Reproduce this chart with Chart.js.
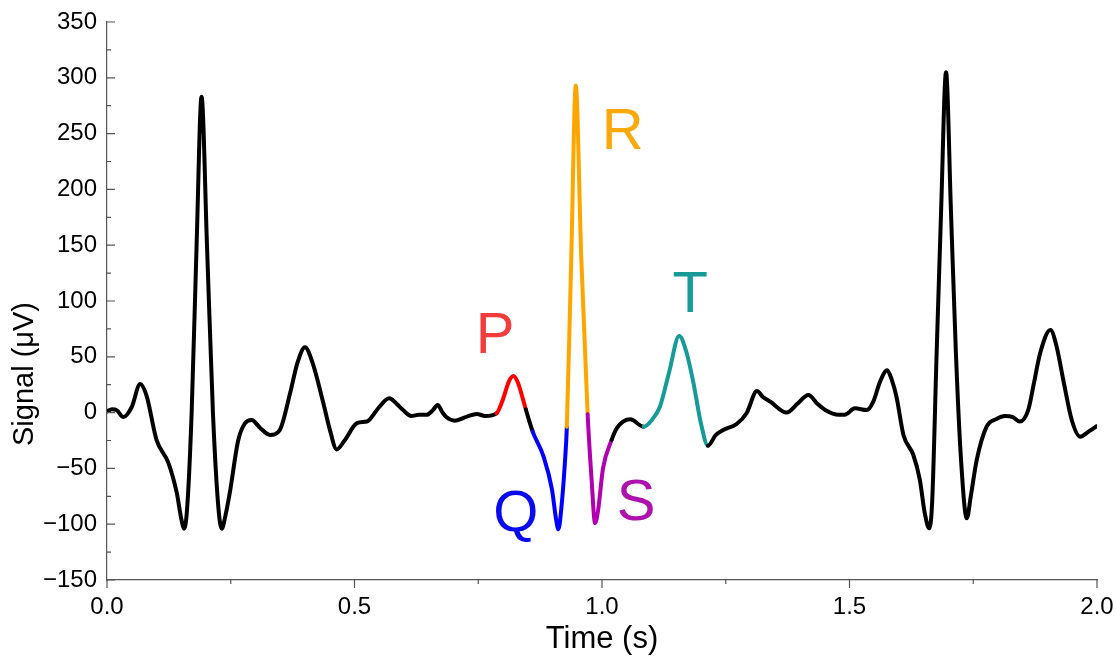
<!DOCTYPE html>
<html>
<head>
<meta charset="utf-8">
<script src="https://cdn.jsdelivr.net/npm/chart.js@4.4.1/dist/chart.umd.min.js"></script>
<style>
  html, body { margin: 0; padding: 0; background: #fff; }
  #wrap { width: 1116px; height: 661px; position: relative; }
</style>
</head>
<body>
<div id="wrap"><canvas id="ecg"></canvas></div>
<script>
// Data
const times = [
  0.000, 0.010, 0.020, 0.033, 0.050, 0.067, 0.080, 0.100, 0.124, 0.141,
  0.150, 0.156, 0.162, 0.171, 0.181, 0.191, 0.202, 0.214, 0.225, 0.232,
  0.238, 0.248, 0.265, 0.278, 0.292, 0.310, 0.329, 0.349, 0.370, 0.385,
  0.400, 0.415, 0.437, 0.450, 0.464, 0.480, 0.505, 0.525, 0.531, 0.550,
  0.570, 0.585, 0.598, 0.615, 0.630, 0.646, 0.658, 0.668, 0.678, 0.686,
  0.703, 0.727, 0.747, 0.764, 0.787, 0.800, 0.812, 0.821, 0.830, 0.846,
  0.860, 0.882, 0.899, 0.907, 0.912, 0.918, 0.925, 0.929, 0.938, 0.947,
  0.958, 0.971, 0.979, 0.986, 0.992, 1.002, 1.0195, 1.030, 1.057, 1.084,
  1.100, 1.117, 1.135, 1.156, 1.170, 1.185, 1.200, 1.214, 1.230, 1.245,
  1.272, 1.292, 1.313, 1.325, 1.340, 1.373, 1.395, 1.417, 1.435, 1.451,
  1.478, 1.490, 1.511, 1.535, 1.548, 1.562, 1.576, 1.585, 1.595, 1.609,
  1.629, 1.642, 1.652, 1.661, 1.667, 1.676, 1.685, 1.695, 1.705, 1.715,
  1.725, 1.737, 1.745, 1.757, 1.777, 1.797, 1.814, 1.830, 1.844, 1.861,
  1.872, 1.885, 1.906, 1.918, 1.932, 1.949, 1.966, 1.983, 2.000
];
const signal = [
  1, 3, 2, -4, 5, 25.6, 15, -24.5, -45, -72,
  -95, -104, -85, 0, 150, 283, 150, 0, -85, -104,
  -95, -72, -25, -10, -6.6, -14, -20, -15.6, 17.6, 45,
  58.6, 45, 8.6, -15, -33, -25, -9.5, -8, -6, 5,
  12.8, 8, 2.3, -3, -2, -2, 2, 6.8, 0, -4.2,
  -7.2, -3.6, -1.3, -3, -0.6, 12, 28, 32.8, 27, 3,
  -17, -39.5, -69, -95, -104.6, -85, -45, -12.6, 140, 293,
  140, -1.5, -60, -99, -88, -50, -24.5, -14, -6, -12.6,
  -7, 5.3, 35, 68.6, 55, 26, -10, -29.6, -20, -15.6,
  -10.2, -0.6, 19.4, 14, 9.8, 0, 8, 15.8, 8, 2.3,
  -2, -2, 3.8, 2.3, 9.8, 28, 38, 30, 14, -20,
  -38, -60, -90, -103.7, -80, 53, 180, 305, 180, 53,
  -40, -94.7, -75, -42.5, -12.6, -5.7, -3, -4, -8, 2.3,
  25, 53, 74, 60, 29, -6.6, -21.6, -17, -12
];

// Named waves and the time span each one covers
const waveNames = ['P', 'Q', 'R', 'S', 'T'];
const waveStart = [0.787, 0.860, 0.929, 0.971, 1.084];
const waveEnd   = [0.846, 0.929, 0.971, 1.0195, 1.214];

const yTicks = [-150, -100, -50, 0, 50, 100, 150, 200, 250, 300, 350];
const xTicks = [0.0, 0.5, 1.0, 1.5, 2.0];

// Styles
const lineColors  = { P: '#ff0000', Q: '#0000ff', R: '#ffa500', S: '#b000b0', T: '#179b98' };
const labelColors = { P: '#f43c3c', Q: '#0a0aee', R: '#f9a90a', S: '#ad12ad', T: '#179b98' };
const labelAnchor = {
  P: [0.784, 53], Q: [0.826, -106], R: [1.042, 236], S: [1.069, -96], T: [1.178, 90]
};
const axisColor = '#555';
const font = 'Arial, "Liberation Sans", sans-serif';

const points = times.map((t, i) => ({ x: t, y: signal[i] }));

function segColor(ctx) {
  const a = ctx.p0.parsed.x, b = ctx.p1.parsed.x;
  for (let i = 0; i < waveNames.length; i++) {
    if (a >= waveStart[i] - 1e-6 && b <= waveEnd[i] + 1e-6) return lineColors[waveNames[i]];
  }
  return '#000';
}

// ticks: y inward (to the right), x outward (down); minor halfway
const tickMarks = {
  id: 'tickMarks',
  afterDraw(chart) {
    const { ctx, scales: { x, y } } = chart;
    ctx.save();
    ctx.strokeStyle = axisColor;
    ctx.lineWidth = 1.2;
    ctx.beginPath();
    yTicks.forEach((v, i) => {
      const py = y.getPixelForValue(v);
      ctx.moveTo(x.left, py); ctx.lineTo(x.left + 8, py);
      if (i < yTicks.length - 1) {
        const pm = y.getPixelForValue((v + yTicks[i + 1]) / 2);
        ctx.moveTo(x.left, pm); ctx.lineTo(x.left + 4, pm);
      }
    });
    xTicks.forEach((v, i) => {
      const px = x.getPixelForValue(v);
      ctx.moveTo(px, y.bottom); ctx.lineTo(px, y.bottom + 8);
      if (i < xTicks.length - 1) {
        const pm = x.getPixelForValue((v + xTicks[i + 1]) / 2);
        ctx.moveTo(pm, y.bottom); ctx.lineTo(pm, y.bottom + 4);
      }
    });
    ctx.stroke();
    ctx.restore();
  }
};

const waveLabels = {
  id: 'waveLabels',
  afterDatasetsDraw(chart) {
    const { ctx, scales: { x, y } } = chart;
    ctx.save();
    ctx.font = '58px ' + font;
    ctx.textAlign = 'center';
    ctx.textBaseline = 'alphabetic';
    waveNames.forEach(n => {
      ctx.fillStyle = labelColors[n];
      ctx.fillText(n, x.getPixelForValue(labelAnchor[n][0]), y.getPixelForValue(labelAnchor[n][1]));
    });
    // y axis title, sits a bit below the middle as in the source figure
    ctx.save();
    ctx.translate(25, 374);
    ctx.rotate(-Math.PI / 2);
    ctx.font = '29px ' + font;
    ctx.fillStyle = '#000';
    ctx.textBaseline = 'middle';
    ctx.fillText('Signal (\u03bcV)', 0, 0);
    ctx.restore();
    ctx.restore();
  }
};

new Chart(document.getElementById('ecg'), {
  type: 'line',
  data: {
    datasets: [{
      data: points,
      borderColor: '#000',
      borderWidth: 4,
      borderCapStyle: 'round',
      borderJoinStyle: 'round',
      pointRadius: 0,
      cubicInterpolationMode: 'monotone',
      segment: { borderColor: segColor }
    }]
  },
  options: {
    responsive: true,
    maintainAspectRatio: false,
    animation: false,
    layout: { padding: { top: 22, right: 19, left: 0, bottom: 0 } },
    plugins: { legend: { display: false }, tooltip: { enabled: false } },
    scales: {
      x: {
        type: 'linear',
        min: 0, max: 2,
        afterFit: s => { s.height = 81; s.paddingLeft = 0; s.paddingRight = 0; },
        afterBuildTicks: s => { s.ticks = xTicks.map(v => ({ value: v })); },
        grid: { display: false, drawTicks: false, tickLength: 0 },
        border: { display: true, color: axisColor, width: 1.2 },
        ticks: {
          color: '#000', padding: 13, maxRotation: 0,
          font: { family: font, size: 24 },
          callback: v => v.toFixed(1)
        },
        title: {
          display: true, text: 'Time (s)', color: '#000',
          font: { family: font, size: 31 },
          padding: { top: 0, bottom: 3 }
        }
      },
      y: {
        type: 'linear',
        min: -150, max: 350,
        afterFit: s => { s.width = 107; s.paddingTop = 0; s.paddingBottom = 0; },
        afterBuildTicks: s => { s.ticks = yTicks.map(v => ({ value: v })); },
        grid: { display: false, drawTicks: false, tickLength: 0 },
        border: { display: true, color: axisColor, width: 1.2 },
        ticks: {
          color: '#000', padding: 10,
          font: { family: font, size: 24 },
          callback: v => v < 0 ? '\u2212' + Math.abs(v) : String(v)
        }
      }
    }
  },
  plugins: [tickMarks, waveLabels]
});
</script>
</body>
</html>
